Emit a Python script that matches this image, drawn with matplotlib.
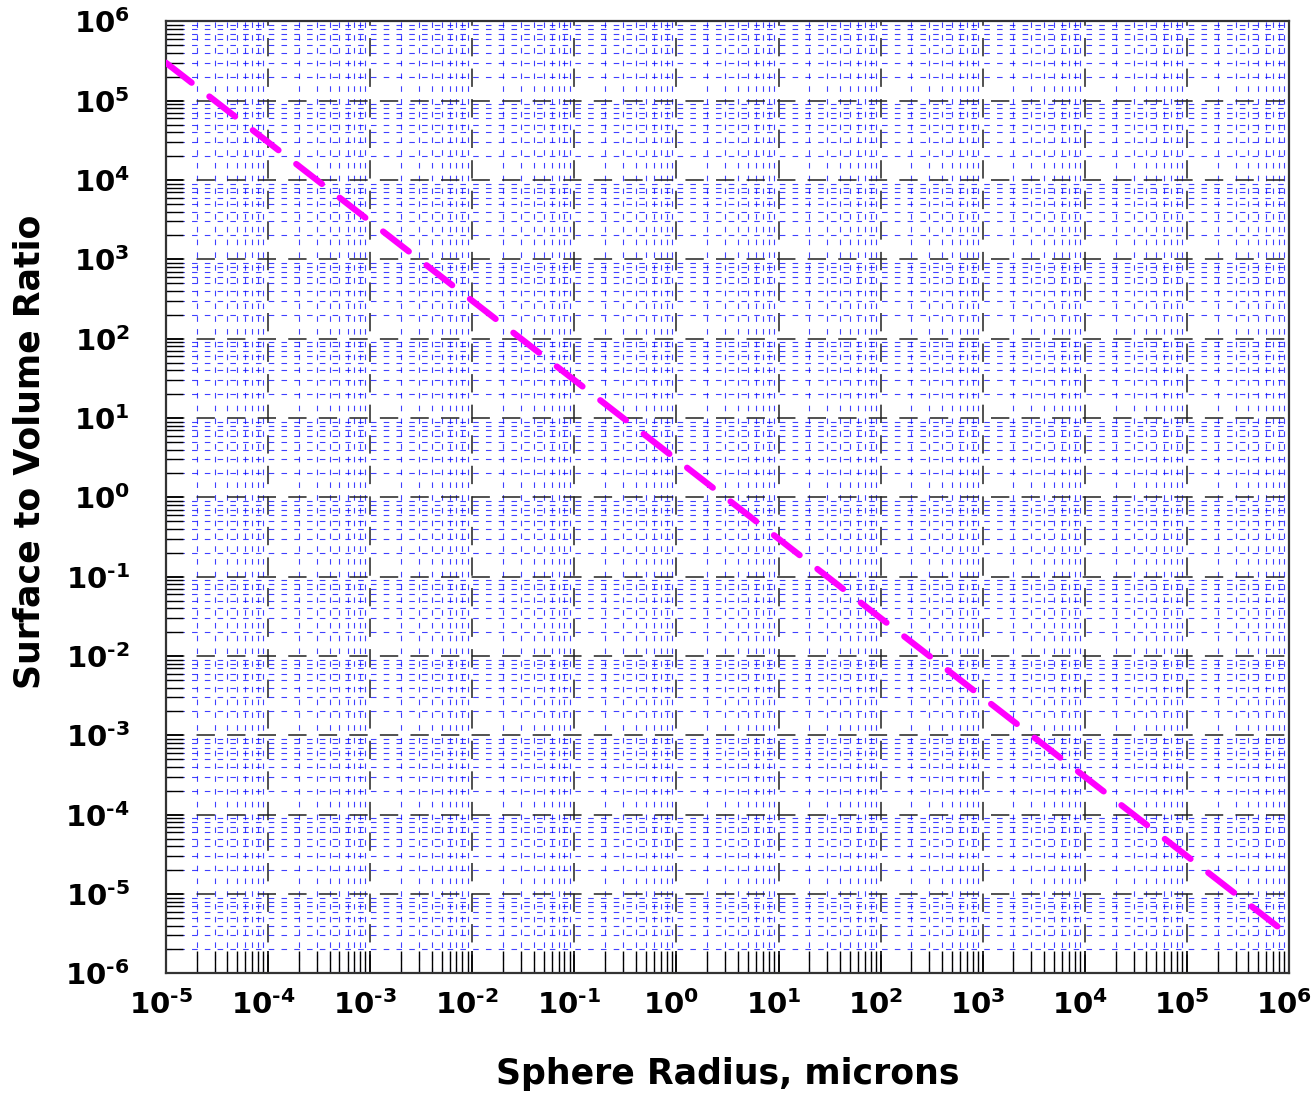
import numpy as np
import matplotlib
matplotlib.use("Agg")
import matplotlib.pyplot as plt
import matplotlib.transforms as mtransforms
from matplotlib.ticker import LogLocator, FuncFormatter

# sphere radius (microns) and surface-to-volume ratio
radius = [1e-5, 1e-4, 1e-3, 1e-2, 1e-1, 1e0, 1e1, 1e2, 1e3, 1e4, 1e5, 1e6]
sv_ratio = [3e5, 3e4, 3e3, 3e2, 3e1, 3e0, 3e-1, 3e-2, 3e-3, 3e-4, 3e-5, 3e-6]

x_lim = (1e-5, 1e6)
y_lim = (1e-6, 1e6)

plt.rcParams['font.family'] = ['DejaVu Sans']
plt.rcParams['font.weight'] = 'bold'
plt.rcParams['mathtext.fontset'] = 'dejavusans'
plt.rcParams['mathtext.default'] = 'bf'


def pow_label(v, pos):
    e = int(round(np.log10(v)))
    s = str(abs(e))
    if e < 0:
        s = '\u2010' + s  # short hyphen like the original
    return r'$10^{%s}$' % s


fig = plt.figure(figsize=(13.14, 11.03), dpi=100)
ax = fig.add_axes([0.1263, 0.1176, 0.8547, 0.8631])

ax.plot(radius, sv_ratio, color='#ff00ff', lw=4.5,
        dashes=(5.2, 3.6), dash_capstyle='round', zorder=5)

ax.set_xscale('log')
ax.set_yscale('log')
ax.set_xlim(*x_lim)
ax.set_ylim(*y_lim)

for axis in (ax.xaxis, ax.yaxis):
    axis.set_major_locator(LogLocator(base=10, subs=(1.0,), numticks=100))
    axis.set_minor_locator(LogLocator(base=10, subs=np.arange(2, 10), numticks=100))
    axis.set_major_formatter(FuncFormatter(pow_label))

ax.grid(which='major', color='#222222', lw=1.1, dashes=(12, 8))
ax.grid(which='minor', color='#0000ff', alpha=0.75, lw=0.8, dashes=(5, 6.5))

ax.tick_params(which='both', direction='in', top=False, right=False, colors='black')
ax.tick_params(axis='x', which='minor', length=16, width=1.0)
ax.tick_params(axis='y', which='minor', length=12, width=1.0)
ax.tick_params(axis='x', which='major', length=16, width=1.2, pad=12, labelsize=21)
ax.tick_params(axis='y', which='major', length=12, width=1.2, pad=26, labelsize=21)

# labels sit a little left of their tick in the original
shift = mtransforms.ScaledTranslation(-5 / 100, 0, fig.dpi_scale_trans)
for lab in ax.get_xticklabels():
    lab.set_transform(lab.get_transform() + shift)

for s in ax.spines.values():
    s.set_linewidth(1.6)
    s.set_color('#333333')

ax.set_xlabel('Sphere Radius, microns', fontsize=25, fontweight='bold')
ax.set_ylabel('Surface to Volume Ratio', fontsize=25, fontweight='bold')
ax.xaxis.set_label_coords(0.5, -0.088)
ax.yaxis.set_label_coords(-0.106, 0.548)

fig.savefig("out.png", dpi=100)
plt.close("all")
